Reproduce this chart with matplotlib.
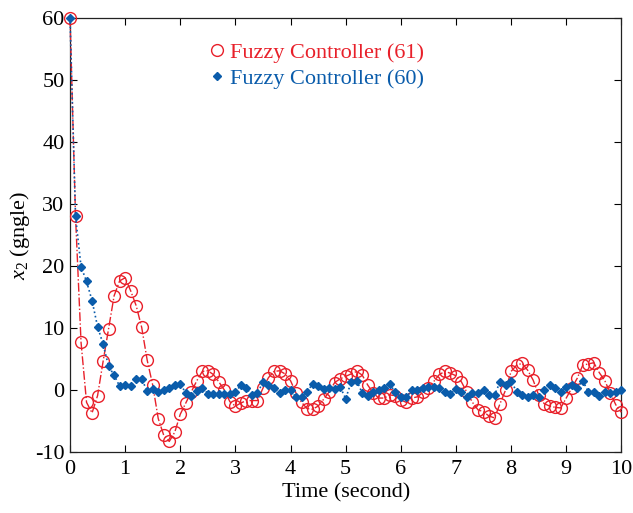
import numpy as np
import matplotlib
matplotlib.use("Agg")
import matplotlib.pyplot as plt
from matplotlib.lines import Line2D

# sampling times (s), 0.1 s step
time = np.linspace(0, 10, 101)

# Fuzzy Controller (61) -- red circles
x2_fc61 = [60, 28, 7.7, -2.0, -3.7, -0.9, 4.6, 9.9, 15.2, 17.6,
           18.1, 16.0, 13.6, 10.1, 4.8, 0.8, -4.6, -7.3, -8.3, -6.8,
           -3.9, -2.1, -0.3, 1.5, 3.0, 3.1, 2.5, 1.3, 0.0, -1.9,
           -2.6, -2.1, -1.7, -1.7, -1.7, 0.3, 2.0, 3.0, 3.1, 2.6,
           1.5, -0.5, -2.0, -3.0, -3.1, -2.6, -1.5, -0.3, 1.2, 1.8,
           2.2, 2.6, 3.0, 2.4, 0.8, -0.5, -1.3, -1.3, -0.8, -0.9,
           -1.6, -2.0, -1.3, -1.1, -0.4, 0.4, 1.4, 2.5, 3.0, 2.7,
           2.3, 1.3, -0.4, -2.0, -3.2, -3.5, -4.2, -4.5, -2.2, 0.0,
           3.0, 4.0, 4.3, 3.2, 1.6, -0.8, -2.2, -2.6, -2.8, -2.9,
           -1.3, 0.3, 1.9, 4.0, 4.2, 4.4, 2.8, 1.5, -0.5, -2.4,
           -3.6]

# Fuzzy Controller (60) -- blue diamonds
x2_fc60 = [60, 28, 19.9, 17.5, 14.4, 10.2, 7.4, 3.8, 2.4, 0.6,
           0.8, 0.6, 1.7, 1.7, -0.1, 0.1, -0.4, 0.0, 0.3, 0.8,
           1.0, -0.5, -1.0, -0.1, 0.4, -0.6, -0.6, -0.6, -0.6, -0.6,
           -0.3, 0.8, 0.3, -0.8, -0.5, 1.3, 0.8, 0.3, -0.5, 0.0,
           0.0, -1.2, -1.2, -0.3, 1.0, 0.6, 0.1, 0.3, 0.1, 0.5,
           -1.4, 1.3, 1.5, -0.5, -0.9, -0.3, 0.0, 0.4, 0.9, -0.3,
           -1.2, -1.2, 0.0, 0.0, 0.3, 0.5, 0.5, 0.3, -0.3, -0.6,
           0.1, -0.3, -1.1, -0.5, -0.5, 0.0, -0.8, -0.8, 1.3, 0.8,
           1.5, -0.3, -0.8, -1.1, -0.8, -1.1, 0.0, 0.8, 0.3, -0.4,
           0.5, 0.8, 0.3, 1.5, -0.3, -0.3, -1.0, -0.3, -0.5, -0.4,
           0.0]

labels = ["Fuzzy Controller (61)", "Fuzzy Controller (60)"]
red = '#E8202A'
blue = '#0A5CAB'

plt.rcParams['font.family'] = ['Liberation Serif', 'DejaVu Serif']
plt.rcParams['mathtext.fontset'] = 'custom'
plt.rcParams['mathtext.rm'] = 'Liberation Serif'
plt.rcParams['mathtext.it'] = 'Liberation Serif:italic'
plt.rcParams['axes.unicode_minus'] = False

fig = plt.figure(figsize=(6.33, 5.13), dpi=100)
ax = fig.add_axes([0.1106, 0.1189, 0.871, 0.8461])

ax.plot(time, x2_fc61, color=red, linestyle='-.', linewidth=1.0,
        marker='o', markersize=8.5, markerfacecolor='none',
        markeredgecolor=red, markeredgewidth=1.0, clip_on=False, zorder=3)
ax.plot(time, x2_fc60, color=blue, linestyle=':', linewidth=1.2,
        marker='D', markersize=4, markerfacecolor=blue,
        markeredgecolor=blue, clip_on=False, zorder=4)

ax.set_xlim(0, 10)
ax.set_ylim(-10, 60)
ax.set_xticks(range(0, 11))
ax.set_yticks(range(-10, 61, 10))
ax.tick_params(direction='in', top=True, right=True, length=5,
               width=0.8, labelsize=16)
ax.tick_params(axis='x', pad=6)
ax.tick_params(axis='y', pad=4)
for s in ax.spines.values():
    s.set_linewidth(0.9)
    s.set_color('#222222')
    s.set_zorder(2)

ax.set_xlabel("Time (second)", fontsize=16, labelpad=3)
ax.set_ylabel("$x_2$ (gngle)", fontsize=16, labelpad=2)

# legend shows markers only
h = [Line2D([], [], linestyle='none', marker='o', markersize=8.5,
            markerfacecolor='none', markeredgecolor=red),
     Line2D([], [], linestyle='none', marker='D', markersize=4,
            color=blue)]
ax.legend(h, labels, loc='upper left', bbox_to_anchor=(0.218, 0.99),
          frameon=False, fontsize=16, handlelength=0.6,
          handletextpad=0.3, labelspacing=0.25, labelcolor=[red, blue])

fig.savefig("out.png", dpi=100)
